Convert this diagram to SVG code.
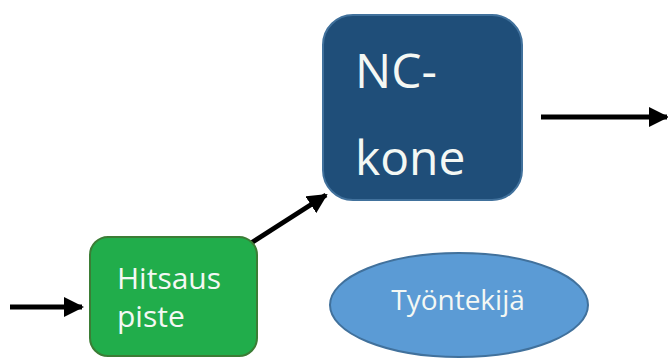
<svg xmlns="http://www.w3.org/2000/svg" width="668" height="358" viewBox="0 0 668 358">
<defs>
<style>
.lbl{font-family:"Open Sans","Noto Sans","Liberation Sans",sans-serif;fill:#f4f8f4}
.conn{stroke:#000;stroke-width:5;fill:none}
</style>
<marker id="ah" viewBox="0 0 10 10" refX="9" refY="5" markerWidth="4" markerHeight="4" markerUnits="strokeWidth" orient="auto">
<path d="M0,0 L10,5 L0,10 z" fill="#000"/>
</marker>
</defs>
<rect width="668" height="358" fill="#ffffff"/>
<g id="connectors">
<line class="conn" x1="10" y1="307" x2="82" y2="307" marker-end="url(#ah)"/>
<line class="conn" x1="248" y1="245" x2="326" y2="195" marker-end="url(#ah)"/>
<line class="conn" x1="541" y1="117" x2="667" y2="117" marker-end="url(#ah)"/>
</g>
<g id="hitsaus">
<rect x="90" y="237" width="167" height="119" rx="18" fill="#21ad4b" stroke="#3b7d35" stroke-width="2"/>
<text class="lbl" x="117" y="289" font-size="30">Hitsaus</text>
<text class="lbl" x="117" y="327" font-size="30">piste</text>
</g>
<g id="nckone">
<rect x="323" y="15" width="199" height="185" rx="30" fill="#1f4e79" stroke="#41719c" stroke-width="2"/>
<text class="lbl" x="355" y="88" font-size="48">NC-</text>
<text class="lbl" x="355" y="175" font-size="48">kone</text>
</g>
<g id="tyontekija">
<ellipse cx="459" cy="305" rx="129" ry="52" fill="#5b9bd5" stroke="#41719c" stroke-width="2"/>
<text class="lbl" x="458" y="310" font-size="28" text-anchor="middle">Työntekijä</text>
</g>
</svg>
